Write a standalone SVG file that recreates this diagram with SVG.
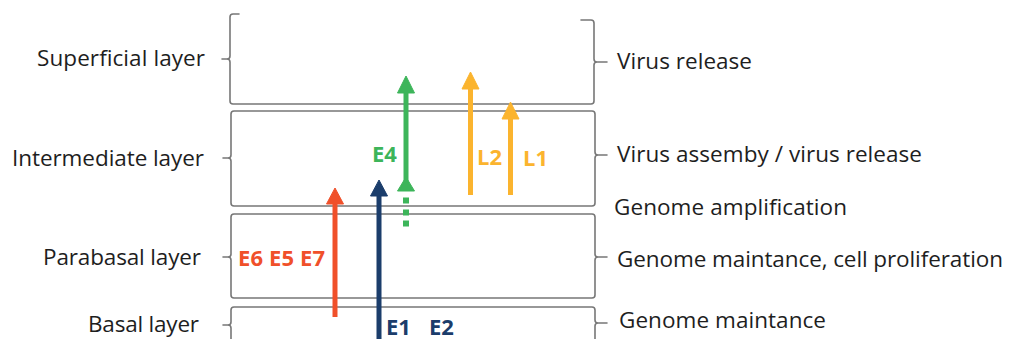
<svg xmlns="http://www.w3.org/2000/svg" width="1009" height="339" viewBox="0 0 1009 339">
  <style>
    .brace { fill: none; stroke: #777; stroke-width: 1.6; stroke-linecap: round; stroke-linejoin: round; }
    .lbl { font-family: "Open Sans", "Noto Sans", sans-serif; font-size: 22.5px; fill: #1e1e1e; }
    .gene { font-family: "Open Sans", "Noto Sans", sans-serif; font-size: 22px; font-weight: bold; }
    .shaft { stroke-width: 5; fill: none; }
    .red { fill: #f0502a; stroke: #f0502a; }
    .navy { fill: #1b3d6b; stroke: #1b3d6b; }
    .green { fill: #3db55a; stroke: #3db55a; }
    .gold { fill: #fbb42e; stroke: #fbb42e; }
    .red.txt, .navy.txt, .green.txt, .gold.txt { stroke: none; }
  </style>

  <!-- epithelial layers drawn as bracketed bands -->
  <g id="superficial">
    <path class="brace" d="M239,14 H233 Q230,14 230,17 V56 Q230,59 227,59 H222 M227,59 Q230,59 230,62 V101 Q230,104 233,104 H591 Q594,104 594,101 V65 Q594,62 597,62 H607 M597,62 Q594,62 594,59 V23 Q594,20 591,20 H581"/>
    <text class="lbl" x="37" y="66" textLength="168">Superficial layer</text>
    <text class="lbl" x="617" y="69" textLength="135">Virus release</text>
  </g>

  <g id="intermediate">
    <path class="brace" d="M234,111 H592 Q595,111 595,114 V152 Q595,155 598,155 H607 M598,155 Q595,155 595,158 V203 Q595,206 592,206 H234 Q231,206 231,203 V161 Q231,158 228,158 H223 M228,158 Q231,158 231,155 V114 Q231,111 234,111"/>
    <text class="lbl" x="12" y="166" textLength="192">Intermediate layer</text>
    <text class="lbl" x="617" y="162" textLength="305">Virus assemby / virus release</text>
    <text class="lbl" x="614" y="215" textLength="233">Genome amplification</text>
  </g>

  <g id="parabasal">
    <path class="brace" d="M234,214 H592 Q595,214 595,217 V254 Q595,257 598,257 H607 M598,257 Q595,257 595,260 V295 Q595,298 592,298 H234 Q231,298 231,295 V260 Q231,257 228,257 H223 M228,257 Q231,257 231,254 V217 Q231,214 234,214"/>
    <text class="lbl" x="43" y="265" textLength="158">Parabasal layer</text>
    <text class="lbl" x="617" y="267" textLength="386">Genome maintance, cell proliferation</text>
  </g>

  <g id="basal">
    <path class="brace" d="M231,345 V328 Q231,325 228,325 H223 M228,325 Q231,325 231,322 V310 Q231,307 234,307 H592 Q595,307 595,310 V320 Q595,323 598,323 H607 M598,323 Q595,323 595,326 V345"/>
    <text class="lbl" x="88" y="332" textLength="111">Basal layer</text>
    <text class="lbl" x="619" y="328" textLength="207">Genome maintance</text>
  </g>

  <!-- viral gene expression arrows -->
  <g id="connectors">
    <g id="e6-e5-e7">
      <line class="shaft red" x1="335" y1="317" x2="335" y2="200"/>
      <polygon class="red" points="335,188 343.5,204 326.5,204"/>
    </g>
    <g id="e1-e2">
      <line class="shaft navy" x1="379" y1="345" x2="379" y2="192"/>
      <polygon class="navy" points="379,180 387.5,196 370.5,196"/>
    </g>
    <g id="e4">
      <rect class="green" x="403.5" y="198" width="5" height="5"/>
      <rect class="green" x="403.5" y="210" width="5" height="5"/>
      <rect class="green" x="403.5" y="221" width="5" height="5"/>
      <polygon class="green" points="406,177 414.5,191 397.5,191"/>
      <line class="shaft green" x1="406" y1="182" x2="406" y2="88"/>
      <polygon class="green" points="406,76 414.5,93 397.5,93"/>
    </g>
    <g id="l2">
      <line class="shaft gold" x1="470.5" y1="195" x2="470.5" y2="85"/>
      <polygon class="gold" points="470.5,72 479,89 462,89"/>
    </g>
    <g id="l1">
      <line class="shaft gold" x1="510.5" y1="195" x2="510.5" y2="114"/>
      <polygon class="gold" points="510.5,102 519,119 502,119"/>
    </g>
  </g>

  <!-- gene labels -->
  <g id="gene-labels">
    <text class="gene red txt" x="238" y="266" textLength="87">E6 E5 E7</text>
    <text class="gene navy txt" x="386" y="335">E1</text>
    <text class="gene navy txt" x="429" y="335">E2</text>
    <text class="gene green txt" x="372" y="162">E4</text>
    <text class="gene gold txt" x="477" y="165">L2</text>
    <text class="gene gold txt" x="523" y="166">L1</text>
  </g>
</svg>
